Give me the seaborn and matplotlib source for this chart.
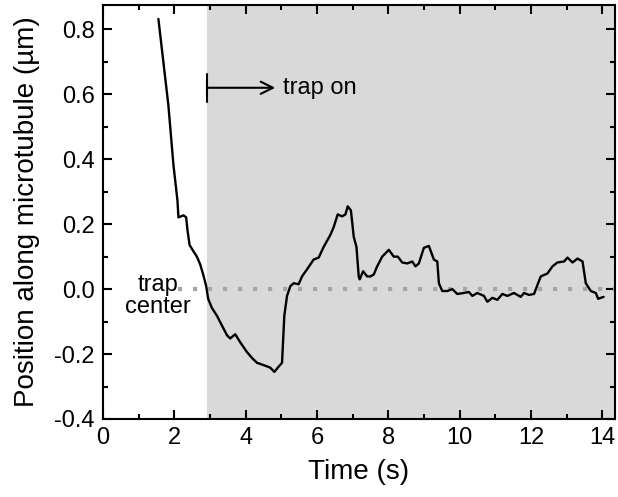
import matplotlib
matplotlib.use("Agg")
import matplotlib.pyplot as plt
import seaborn as sns
import pandas as pd
from matplotlib.ticker import MultipleLocator

# Trace
time_s = [1.553, 1.834, 1.975, 2.087, 2.115, 2.256, 2.331, 2.368, 2.427, 2.492,
          2.632, 2.725, 2.809, 2.893, 2.949, 3.053, 3.194, 3.334, 3.475, 3.567,
          3.708, 3.848, 4.037, 4.177, 4.317, 4.551, 4.691, 4.803, 4.924, 5.020,
          5.048, 5.084, 5.160, 5.253, 5.346, 5.486, 5.581, 5.722, 5.907, 6.048,
          6.188, 6.376, 6.469, 6.581, 6.705, 6.798, 6.862, 6.952, 7.031, 7.107,
          7.171, 7.199, 7.295, 7.407, 7.500, 7.593, 7.688, 7.829, 8.014, 8.154,
          8.267, 8.390, 8.531, 8.671, 8.764, 8.857, 8.997, 9.138, 9.278, 9.374,
          9.419, 9.514, 9.654, 9.795, 9.935, 10.121, 10.261, 10.357, 10.497, 10.683,
          10.778, 10.919, 11.059, 11.199, 11.340, 11.525, 11.713, 11.806, 11.947, 12.087,
          12.275, 12.463, 12.604, 12.744, 12.930, 13.025, 13.166, 13.306, 13.447, 13.539,
          13.680, 13.820, 13.885, 14.037]
position_um = [0.832, 0.565, 0.382, 0.273, 0.221, 0.227, 0.221, 0.182, 0.136, 0.124,
               0.100, 0.076, 0.045, 0.009, -0.030, -0.058, -0.082, -0.112, -0.142, -0.152,
               -0.139, -0.164, -0.194, -0.212, -0.227, -0.236, -0.242, -0.255, -0.239, -0.227,
               -0.164, -0.082, -0.021, 0.009, 0.018, 0.015, 0.039, 0.061, 0.091, 0.097,
               0.130, 0.167, 0.191, 0.230, 0.224, 0.230, 0.255, 0.242, 0.161, 0.130,
               0.039, 0.030, 0.055, 0.039, 0.039, 0.045, 0.070, 0.100, 0.121, 0.100,
               0.100, 0.082, 0.079, 0.085, 0.070, 0.079, 0.127, 0.133, 0.091, 0.085,
               0.018, -0.006, -0.006, 0.000, -0.015, -0.012, -0.009, -0.021, -0.012, -0.021,
               -0.039, -0.027, -0.033, -0.015, -0.021, -0.012, -0.024, -0.012, -0.018, -0.015,
               0.039, 0.048, 0.070, 0.082, 0.085, 0.097, 0.082, 0.094, 0.085, 0.018,
               -0.006, -0.012, -0.030, -0.024]

trap_on_time = 2.92
trap_arrow_end = 4.83
trap_center = 0.0
dots_start = 2.1
x_max = 14.35

df = pd.DataFrame({"time": time_s, "pos": position_um})

sns.set_style("ticks")
plt.rcParams['font.family'] = ['Liberation Sans', 'DejaVu Sans']
plt.rcParams['text.color'] = 'black'
plt.rcParams['axes.labelcolor'] = 'black'

fig = plt.figure(figsize=(6.18, 4.97), dpi=100)
ax = fig.add_axes([0.1667, 0.157, 0.828, 0.833])

ax.axvspan(trap_on_time, x_max, color='#d9d9d9', lw=0, zorder=0)
ax.hlines(trap_center, dots_start, x_max, colors='#a6a6a6', lw=3,
          linestyles=(0, (1, 2.6)), zorder=1)

sns.lineplot(data=df, x="time", y="pos", color="black", lw=1.7, sort=False,
             estimator=None, ax=ax, zorder=3)

ax.annotate('', xy=(trap_arrow_end, 0.62), xytext=(trap_on_time, 0.62),
            arrowprops=dict(arrowstyle=']->, widthA=0.45, lengthA=0',
                            color='black', lw=1.5, shrinkA=0, shrinkB=0,
                            mutation_scale=22))
ax.text(trap_arrow_end + 0.22, 0.62, 'trap on', fontsize=17, va='center', ha='left')
ax.text(1.55, -0.02, 'trap\ncenter', fontsize=17, va='center', ha='center',
        linespacing=1.0)

ax.set_xlim(0, x_max)
ax.set_ylim(-0.4, 0.875)
ax.xaxis.set_major_locator(MultipleLocator(2))
ax.xaxis.set_minor_locator(MultipleLocator(1))
ax.yaxis.set_major_locator(MultipleLocator(0.2))
ax.yaxis.set_minor_locator(MultipleLocator(0.1))
ax.yaxis.set_major_formatter(matplotlib.ticker.FormatStrFormatter('%.1f'))
ax.tick_params(which='both', direction='in', top=True, right=True, width=1.5,
               labelsize=17, colors='black')
ax.tick_params(which='major', length=6.5, pad=6)
ax.tick_params(which='minor', length=3.6)
for s in ax.spines.values():
    s.set_linewidth(1.5)
    s.set_color('black')

ax.set_xlabel('Time (s)', fontsize=20, labelpad=7)
ax.set_ylabel('Position along microtubule (\u00b5m)', fontsize=20, labelpad=10)

fig.savefig('out.png', dpi=100)
